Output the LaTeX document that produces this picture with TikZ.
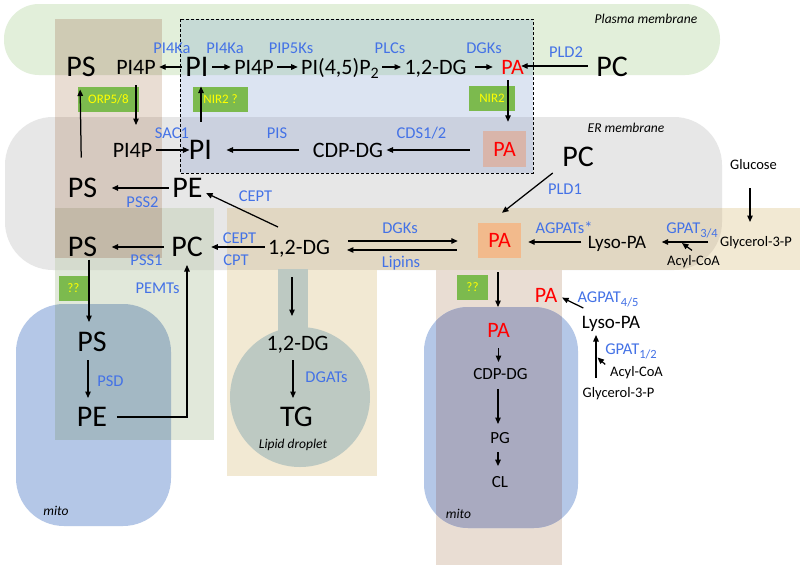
\documentclass[tikz,border=0pt]{standalone}
\usepackage{fontspec}
\setmainfont{Carlito}
\usetikzlibrary{arrows.meta}
\definecolor{pmgreen}{HTML}{E2EFDA}
\definecolor{ergray}{HTML}{E7E7E7}
\definecolor{mitoblue}{HTML}{B4C7E7}
\definecolor{brownlt}{HTML}{E9DDD3}
\definecolor{mitobrown}{HTML}{A9AAC0}
\definecolor{tanc}{HTML}{F2E9D3}
\definecolor{tangray}{HTML}{E1D7C2}
\definecolor{ldgreen}{HTML}{BDC9C2}
\definecolor{greencol}{HTML}{E1E8DA}
\definecolor{greengray}{HTML}{D5DBCE}
\definecolor{greenmito}{HTML}{A3B8C4}
\definecolor{browngreen}{HTML}{CFCBB4}
\definecolor{browngray}{HTML}{D6C9BF}
\definecolor{browngg}{HTML}{C3B9A8}
\definecolor{dbwhite}{HTML}{DCE4F2}
\definecolor{dbgreen}{HTML}{C6DAD5}
\definecolor{dbgray}{HTML}{CBD1DF}
\definecolor{pinkbox}{HTML}{D9B5AA}
\definecolor{orangebox}{HTML}{F2BA8C}
\definecolor{gbox}{HTML}{7CBA4E}
\definecolor{labblue}{HTML}{4472E6}
\definecolor{ylw}{HTML}{FFFF00}
\newcommand\lowsub[2]{{\fontsize{#1}{#1}\selectfont\raisebox{-4pt}{#2}}}
\tikzset{
 bigt/.style={font=\fontsize{30}{32}\selectfont, text height=19pt, text depth=0pt, inner xsep=3.5pt, inner ysep=3pt, outer sep=0pt},
 midt/.style={font=\fontsize{22}{24}\selectfont, text height=14pt, text depth=0pt, inner xsep=3.5pt, inner ysep=3pt, outer sep=0pt},
 lyst/.style={font=\fontsize{19}{21}\selectfont, text height=12pt, text depth=0pt, inner xsep=3.5pt, inner ysep=3pt, outer sep=0pt},
 smlt/.style={font=\fontsize{14.5}{16}\selectfont, text height=9.2pt, text depth=0pt, inner xsep=3.5pt, inner ysep=3pt, outer sep=0pt},
 mitt/.style={font=\fontsize{17}{19}\selectfont, text height=10.8pt, text depth=0pt, inner xsep=3.5pt, inner ysep=3pt, outer sep=0pt},
 labt/.style={font=\fontsize{16.5}{18}\selectfont, text height=10.4pt, text depth=0pt, text=labblue, inner sep=1pt},
 itt/.style={font=\fontsize{13.5}{15}\selectfont\itshape, inner sep=1pt},
 gboxt/.style={fill=gbox, text=ylw, font=\fontsize{13}{14}\selectfont, inner sep=0pt, text height=8.2pt, text depth=0pt},
 colbox/.style={inner sep=0pt, font=\fontsize{22}{24}\selectfont, text height=14pt, text depth=0pt, text=red},
 arr/.style={-{Triangle[length=6.5pt,width=5.5pt]}, line width=1.25pt},
}
\begin{document}
\begin{tikzpicture}[x=1pt,y=-1pt]
\useasboundingbox (0,0) rectangle (800,565);
\fill[white] (0,0) rectangle (800,565);
% membranes
\fill[pmgreen, rounded corners=35pt] (4,4) rectangle (720,75);
\fill[ergray, rounded corners=48pt] (5,117) rectangle (722,270);
% mito left
\fill[mitoblue, rounded corners=48pt] (16,304) rectangle (171,526);
% right brown column and mito
\fill[brownlt] (436,270) rectangle (562,565);
\fill[mitoblue, rounded corners=44pt] (424,307) rectangle (578,528);
\begin{scope}
 \clip[rounded corners=44pt] (424,307) rectangle (578,528);
 \fill[mitobrown] (436,270) rectangle (562,565);
\end{scope}
% tan band
\fill[tanc] (227,208) rectangle (800,270);
\fill[tanc] (227,269) rectangle (377,476);
\begin{scope}
 \clip[rounded corners=48pt] (5,117) rectangle (722,270);
 \fill[tangray] (227,208) rectangle (800,270);
\end{scope}
% lipid droplet
\fill[ldgreen] (278,269) rectangle (308,340);
\fill[ldgreen] (300,397) circle[radius=70pt];
% green column
\fill[greencol] (55,208) rectangle (214,440);
\begin{scope}
 \clip[rounded corners=48pt] (5,117) rectangle (722,270);
 \fill[greengray] (55,208) rectangle (214,440);
\end{scope}
\begin{scope}
 \clip[rounded corners=48pt] (16,304) rectangle (171,526);
 \fill[greenmito] (55,208) rectangle (214,440);
\end{scope}
% brown column left
\fill[brownlt] (55,19) rectangle (162,208);
\begin{scope}
 \clip[rounded corners=35pt] (4,4) rectangle (720,75);
 \fill[browngreen] (55,19) rectangle (162,208);
\end{scope}
\begin{scope}
 \clip[rounded corners=48pt] (5,117) rectangle (722,270);
 \fill[browngray] (55,19) rectangle (162,208);
\end{scope}
\fill[browngg] (55,208) rectangle (162,258);
% dashed box
\begin{scope}
 \clip (180,19) rectangle (533,173);
 \fill[dbwhite] (180,19) rectangle (533,173);
 \begin{scope}
  \clip[rounded corners=35pt] (4,4) rectangle (720,75);
  \fill[dbgreen] (180,19) rectangle (533,173);
 \end{scope}
 \begin{scope}
  \clip[rounded corners=48pt] (5,117) rectangle (722,270);
  \fill[dbgray] (180,19) rectangle (533,173);
 \end{scope}
\end{scope}
\draw[line width=0.9pt, dash pattern=on 3pt off 2pt] (180,19) rectangle (533,173);

% region labels
\node[itt] (lpm) at (646,19) {Plasma membrane};
\node[itt] (ler) at (626,128) {ER membrane};
\node[itt] (lld) at (293,445) {Lipid droplet};
\node[itt] (lm1) at (56,511) {mito};
\node[itt] (lm2) at (458.5,514) {mito};

% green boxes
\node[gboxt, minimum width=61pt, minimum height=25pt] (gb1) at (108.5,99.5) {ORP5/8};
\node[gboxt, minimum width=55pt, minimum height=25pt] (gb2) at (220.5,99.5) {NIR2 ?};
\node[gboxt, minimum width=46pt, minimum height=25pt] (gb3) at (492,98.5) {NIR2};
\node[gboxt, minimum width=29pt, minimum height=25pt] (gb4) at (73.5,288.5) {??};
\node[gboxt, minimum width=31pt, minimum height=25pt] (gb5) at (472.5,287.5) {??};

% row 1
\node[bigt] (PSa) at (81,67) {PS};
\node[midt] (PIPa) at (136,67) {PI4P};
\node[bigt] (PIa) at (197,67) {PI};
\node[midt] (PIPb) at (254,67) {PI4P};
\node[midt] (PIP2) at (340,67) {PI(4,5)P\lowsub{16}{2}};
\node[midt] (DGa) at (435.5,67) {1,2-DG};
\node[midt, text=red] (PAa) at (512.5,67) {PA};
\node[bigt] (PCa) at (612,67) {PC};
\node[labt] (l1) at (172,48) {PI4Ka};
\node[labt] (l2) at (225,48) {PI4Ka};
\node[labt] (l3) at (291,48) {PIP5Ks};
\node[labt] (l4) at (390,48) {PLCs};
\node[labt] (l5) at (484,48) {DGKs};
\node[labt] (l6) at (566,52) {PLD2};

% row 2
\node[midt] (PIPc) at (132.5,150) {PI4P};
\node[bigt] (PIb) at (200.5,150) {PI};
\node[midt] (CDPa) at (348,150) {CDP-DG};
\node[colbox, fill=pinkbox, minimum width=43pt, minimum height=36pt] (PAb) at (504.5,149) {PA};
\node[labt] (l7) at (172,133) {SAC1};
\node[labt] (l8) at (277,133) {PIS};
\node[labt] (l9) at (421.5,133) {CDS1/2};
\node[bigt] (PCb) at (578,157) {PC};
\node[labt] (l10) at (565,189) {PLD1};
\node[smlt] (Glc) at (753.5,165) {Glucose};

% row 3
\node[bigt] (PSc) at (82.5,188) {PS};
\node[bigt] (PEa) at (187.5,188) {PE};
\node[labt] (l11) at (142.5,202) {PSS2};
\node[labt] (l12) at (255.5,196) {CEPT};

% row 4
\node[bigt] (PSd) at (82.5,247) {PS};
\node[bigt] (PCc) at (187,247) {PC};
\node[midt] (DGb) at (299,247) {1,2-DG};
\node[labt] (l13) at (146.5,260) {PSS1};
\node[labt] (l14) at (239.5,238) {CEPT};
\node[labt] (l15) at (236,260) {CPT};
\node[labt] (l16) at (400,228) {DGKs};
\node[labt] (l17) at (401,262) {Lipins};
\node[colbox, fill=orangebox, minimum width=43pt, minimum height=35pt] (PAc) at (499.5,240.5) {PA};
\node[labt] (l18) at (564,228) {AGPATs*};
\node[lyst] (LysoA) at (617,242) {Lyso-PA};
\node[labt] (l19) at (692,228) {GPAT\lowsub{12.5}{3/4}};
\node[smlt] (GlyA) at (756,242) {Glycerol-3-P};
\node[smlt] (AcylA) at (693.5,261) {Acyl-CoA};

% left lower
\node[bigt] (PSe) at (92,342) {PS};
\node[bigt] (PEb) at (92,417) {PE};
\node[labt] (l20) at (110.5,381) {PSD};
\node[labt] (l21) at (157.5,288) {PEMTs};

% lipid droplet
\node[midt] (DGc) at (297.5,343) {1,2-DG};
\node[bigt] (TG) at (296.5,417) {TG};
\node[labt] (l22) at (326.5,377) {DGATs};

% right lower
\node[midt, text=red] (PAd) at (498.5,330) {PA};
\node[midt, text=red] (PAe) at (546,295) {PA};
\node[labt] (l23) at (608,297) {AGPAT\lowsub{12.5}{4/5}};
\node[lyst] (LysoB) at (611,322) {Lyso-PA};
\node[labt] (l24) at (631,349) {GPAT\lowsub{12.5}{1/2}};
\node[smlt] (AcylB) at (636.5,372) {Acyl-CoA};
\node[smlt] (GlyB) at (618.5,393) {Glycerol-3-P};
\node[mitt] (CDPb) at (500.5,374) {CDP-DG};
\node[mitt] (PG) at (500,438) {PG};
\node[mitt] (CL) at (500,482.5) {CL};

\coordinate (acA) at (682,243);
\coordinate (acB) at (597.5,357.5);

% connectors row 1
\draw[arr] (PIa.west) -- (PIPa.east);
\draw[arr] (PIa.east) -- (PIPb.west);
\draw[arr] (PIPb.east) -- (PIP2.west);
\draw[arr] (PIP2.east) -- (DGa.west);
\draw[arr, shorten <=5pt, shorten >=5pt] (DGa.east) -- (PAa.west);
\draw[arr, shorten <=5pt, shorten >=-6pt] ([yshift=1pt]PCa.west) -- ([yshift=1pt]PAa.east);
% verticals between PM and ER
\draw[arr, shorten <=18pt, shorten >=10pt] ([xshift=-1pt]PSc.north) -- ([xshift=-1pt]PSa.south);
\draw[arr, shorten <=8pt, shorten >=15pt] (PIPa.south) -- (PIPa.south |- PIPc.north);
\draw[arr, shorten <=16pt, shorten >=7pt] ([xshift=0.5pt]PIb.north) -- ([xshift=0.5pt]PIb.north |- PIa.south);
\draw[arr, shorten <=3pt, shorten >=9pt] ([xshift=-4.5pt]PAa.south) -- ([xshift=-4.5pt]PAa.south |- PAb.north);
% row 2
\draw[arr, shorten >=-4pt] (PIPc.east) -- (PIb.west);
\draw[arr, shorten <=10pt, shorten >=11pt] (CDPa.west) -- (PIb.east);
\draw[arr, shorten <=13pt] ([yshift=-1pt]PAb.west) -- (CDPa.east);
\draw[arr] ([xshift=-6pt,yshift=-3.5pt]PCb.south west) -- ([xshift=2.5pt,yshift=10pt]PAc.north);
\draw[arr, shorten <=15.4pt, shorten >=12.4pt] ([xshift=-3.5pt]Glc.south) -- ([xshift=-3.5pt]Glc.south |- GlyA.north);
% row 3
\draw[arr, shorten >=11pt] (PEa.west) -- (PSc.east);
\draw[arr] ([xshift=-21pt,yshift=10pt]DGb.north) -- ([yshift=-5pt]PEa.east);
% row 4
\draw[arr, shorten <=4pt, shorten >=11pt] (PCc.west) -- (PSd.east);
\draw[arr, shorten >=5pt] (DGb.west) -- (PCc.east);
\draw[arr, shorten <=14.5pt, shorten >=20pt] ([yshift=6pt]DGb.east) -- ([yshift=6pt]DGb.east -| PAc.west);
\draw[arr, shorten <=21pt, shorten >=13.5pt] ([yshift=-3pt]DGb.east -| PAc.west) -- ([yshift=-3pt]DGb.east);
\draw[arr, shorten <=3pt, shorten >=7pt] (LysoA.west) -- (LysoA.west -| PAc.east);
\draw[arr, shorten <=8.5pt, shorten >=12pt] (GlyA.west) -- (LysoA.east);
\draw[arr] ([xshift=-1.5pt,yshift=3pt]AcylA.north) -- (acA);
% left lower
\draw[arr, shorten >=7.5pt] ([xshift=6.5pt]PSd.south) -- ([xshift=6.5pt]PSd.south |- PSe.north);
\draw[arr, shorten <=5.5pt, shorten >=6.5pt] ([xshift=-4pt]PSe.south) -- ([xshift=-4pt]PSe.south |- PEb.north);
\draw[arr, shorten <=6.4pt, shorten >=5.5pt] (PEb.east) -| (PCc.south);
% lipid droplet
\draw[arr, shorten <=20pt, shorten >=17pt] ([xshift=-7pt]DGb.south) -- ([xshift=-7pt]DGb.south |- DGc.north);
\draw[arr, shorten <=7pt, shorten >=6.5pt] ([xshift=-4.5pt]DGc.south) -- ([xshift=-4.5pt]DGc.south |- TG.north);
% right lower
\draw[arr, shorten <=14pt, shorten >=13pt] ([xshift=-1.5pt]PAc.south) -- ([xshift=-1.5pt]PAc.south |- PAd.north);
\draw[arr, shorten >=1.5pt] ([xshift=5pt,yshift=5pt]LysoB.north west) -- ([yshift=-2pt]PAe.east);
\draw[arr, shorten <=7.4pt, shorten >=4pt] ([xshift=-22.5pt]GlyB.north) -- ([xshift=-22.5pt]GlyB.north |- LysoB.south);
\draw[arr] ([xshift=-1.5pt]AcylB.north west) -- (acB);
\draw[arr, shorten <=8pt, shorten >=3.6pt] (PAd.south) -- (PAd.south |- CDPb.north);
\draw[arr, shorten <=6.6pt, shorten >=5.6pt] ([xshift=-2.5pt]CDPb.south) -- ([xshift=-2.5pt]CDPb.south |- PG.north);
\draw[arr, shorten <=5.6pt, shorten >=8pt] ([xshift=-2pt]PG.south) -- ([xshift=-2pt]PG.south |- CL.north);
\end{tikzpicture}
\end{document}
